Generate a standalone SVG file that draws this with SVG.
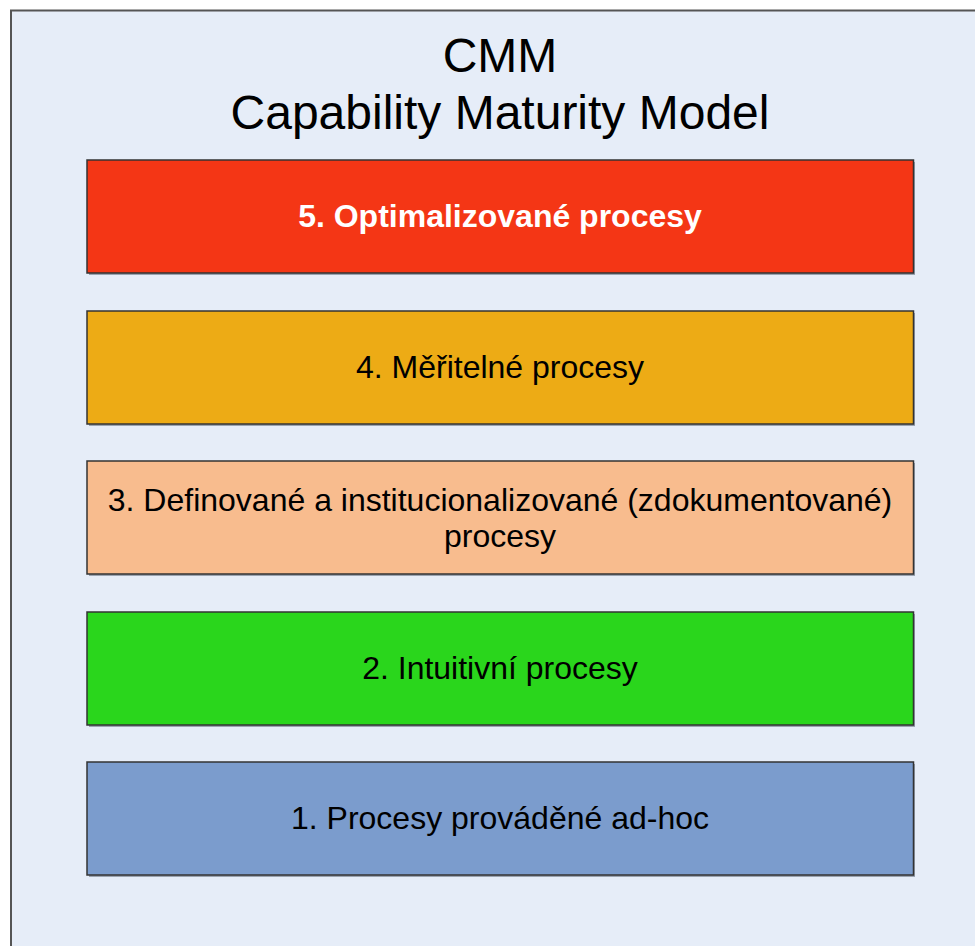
<svg xmlns="http://www.w3.org/2000/svg" width="975" height="946" viewBox="0 0 975 946">
<style>
.t{font-family:"Liberation Sans",Arial,sans-serif;fill:#000;text-anchor:middle}
.title{font-size:48px}
.lbl{font-size:32px}
.box{stroke:#333;stroke-width:1.5}
.sh{fill:#9aa3b0}
</style>
<rect x="0" y="0" width="975" height="946" fill="#ffffff"/>
<rect x="11" y="10.5" width="980" height="960" fill="#e6edf8" stroke="#555" stroke-width="2"/>
<g id="title">
<text class="t title" x="500" y="72">CMM</text>
<text class="t title" x="500" y="129">Capability Maturity Model</text>
</g>
<g id="level5">
<rect class="sh" x="89" y="162" width="826" height="113"/>
<rect class="box" x="87" y="160" width="826.5" height="113" fill="#f43615"/>
<text class="t lbl" x="500" y="227" font-weight="bold" style="fill:#fff">5. Optimalizované procesy</text>
</g>
<g id="level4">
<rect class="sh" x="89" y="313" width="826" height="113"/>
<rect class="box" x="87" y="311" width="826.5" height="113" fill="#edab15"/>
<text class="t lbl" x="500" y="378">4. Měřitelné procesy</text>
</g>
<g id="level3">
<rect class="sh" x="89" y="463" width="826" height="113"/>
<rect class="box" x="87" y="461" width="826.5" height="113" fill="#f8bc8e"/>
<text class="t lbl" x="500" y="511">3. Definované a institucionalizované (zdokumentované)</text>
<text class="t lbl" x="500" y="547">procesy</text>
</g>
<g id="level2">
<rect class="sh" x="89" y="614" width="826" height="113"/>
<rect class="box" x="87" y="612" width="826.5" height="113" fill="#2ad61c"/>
<text class="t lbl" x="500" y="679">2. Intuitivní procesy</text>
</g>
<g id="level1">
<rect class="sh" x="89" y="764" width="826" height="113"/>
<rect class="box" x="87" y="762" width="826.5" height="113" fill="#7b9ccd"/>
<text class="t lbl" x="500" y="829">1. Procesy prováděné ad-hoc</text>
</g>
<g id="connectors"/>
</svg>
